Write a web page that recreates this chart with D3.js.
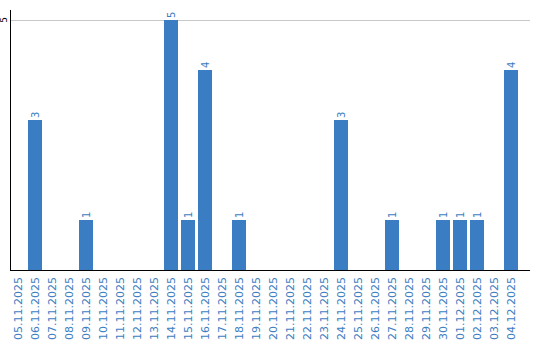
<!DOCTYPE html>
<html>
<head>
<meta charset="utf-8">
<script src="https://cdn.jsdelivr.net/npm/d3@7"></script>
<style>
  body { margin: 0; background: #fff; }
  svg { display: block; font-family: "DejaVu Sans", Verdana, sans-serif; }
</style>
</head>
<body>
<svg id="chart" width="540" height="340"></svg>
<script>
const days = [
  "05.11.2025", "06.11.2025", "07.11.2025", "08.11.2025", "09.11.2025",
  "10.11.2025", "11.11.2025", "12.11.2025", "13.11.2025", "14.11.2025",
  "15.11.2025", "16.11.2025", "17.11.2025", "18.11.2025", "19.11.2025",
  "20.11.2025", "21.11.2025", "22.11.2025", "23.11.2025", "24.11.2025",
  "25.11.2025", "26.11.2025", "27.11.2025", "28.11.2025", "29.11.2025",
  "30.11.2025", "01.12.2025", "02.12.2025", "03.12.2025", "04.12.2025"
];
const counts = [0, 3, 0, 0, 1, 0, 0, 0, 0, 5, 1, 4, 0, 1, 0, 0, 0, 0, 0, 3, 0, 0, 1, 0, 0, 1, 1, 1, 0, 4];
const yTicks = [5];

const blue = "#3b7dc2";
const svg = d3.select("#chart");

const plotLeft = 11, plotRight = 530, plotTop = 20, plotBottom = 270;

const x = d3.scaleBand()
  .domain(days)
  .range([plotLeft, plotLeft + 30 * 17 - 3])
  .paddingInner(3 / 17)
  .paddingOuter(0);

const y = d3.scaleLinear().domain([0, 5]).range([plotBottom, plotTop]);

// gridlines
svg.append("g")
  .selectAll("line")
  .data(yTicks)
  .enter()
  .append("line")
  .attr("x1", plotLeft)
  .attr("x2", plotRight)
  .attr("y1", (d) => y(d) + 0.5)
  .attr("y2", (d) => y(d) + 0.5)
  .style("stroke", "#c8c8c8");

// y tick labels (rotated)
svg.append("g")
  .selectAll("text")
  .data(yTicks)
  .enter()
  .append("text")
  .attr("transform", (d) => `translate(4,${y(d)}) rotate(-90)`)
  .attr("text-anchor", "middle")
  .attr("dy", "0.35em")
  .style("font-size", "9px")
  .style("fill", "#000")
  .text((d) => d);

const bars = days.map((day, i) => ({ day, value: counts[i] })).filter((d) => d.value > 0);

// bars
svg.append("g")
  .selectAll("rect")
  .data(bars)
  .enter()
  .append("rect")
  .attr("x", (d) => x(d.day))
  .attr("y", (d) => y(d.value))
  .attr("width", x.bandwidth())
  .attr("height", (d) => plotBottom - y(d.value))
  .style("fill", blue);

// value labels
svg.append("g")
  .selectAll("text")
  .data(bars)
  .enter()
  .append("text")
  .attr("transform", (d) => `translate(${x(d.day) + x.bandwidth() / 2},${y(d.value) - 2}) rotate(-90)`)
  .attr("text-anchor", "start")
  .attr("dy", "0.35em")
  .style("font-size", "10px")
  .style("fill", blue)
  .text((d) => d.value);

// x labels
svg.append("g")
  .selectAll("text")
  .data(days)
  .enter()
  .append("text")
  .attr("transform", (d) => `translate(${x(d) + x.bandwidth() / 2},277) rotate(-90)`)
  .attr("text-anchor", "end")
  .attr("dy", "0.35em")
  .style("font-size", "11px")
  .style("fill", blue)
  .text((d) => d);

// axis lines
svg.append("line")
  .attr("x1", 10.5).attr("x2", 10.5)
  .attr("y1", 10).attr("y2", plotBottom + 1)
  .style("stroke", "#000");
svg.append("line")
  .attr("x1", 10).attr("x2", plotRight)
  .attr("y1", plotBottom + 0.5).attr("y2", plotBottom + 0.5)
  .style("stroke", "#000");
</script>
</body>
</html>
